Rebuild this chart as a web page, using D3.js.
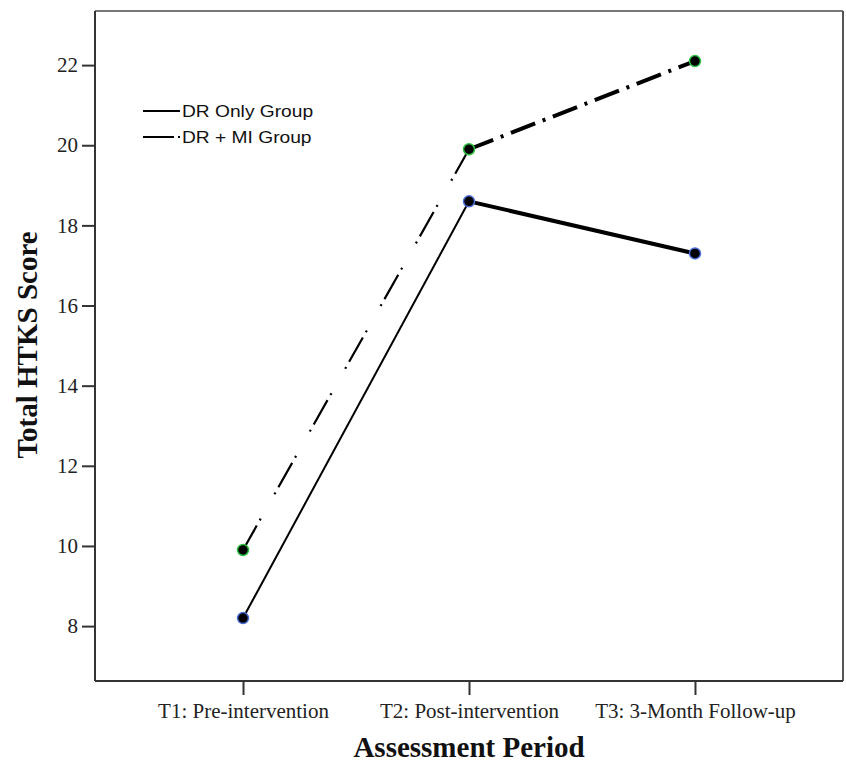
<!DOCTYPE html>
<html>
<head>
<meta charset="utf-8">
<script src="https://cdn.jsdelivr.net/npm/d3@7"></script>
<style>
  body { margin: 0; background: #fff; }
  .axis text { font-family: "Liberation Serif", "DejaVu Serif", serif; font-size: 21px; fill: #222; }
  .axis line, .axis path { stroke: #333; stroke-width: 2; }
</style>
</head>
<body>
<div id="chart"></div>
<script>
// assessment periods and group means
var periods = ["T1: Pre-intervention", "T2: Post-intervention", "T3: 3-Month Follow-up"];
var drOnly = [8.2, 18.6, 17.3];
var drMi = [9.9, 19.9, 22.1];
var yTicks = [8, 10, 12, 14, 16, 18, 20, 22];
var groups = ["DR Only Group", "DR + MI Group"];

var svgWidth = 846, svgHeight = 764;
var margin = {top: 11, right: 3, bottom: 83, left: 95};

var svg = d3.select('#chart').append('svg')
  .attr('width', svgWidth)
  .attr('height', svgHeight);

var width = svgWidth - margin.left - margin.right;
var height = svgHeight - margin.top - margin.bottom;

var g = svg.append('g')
  .attr('transform', 'translate(' + margin.left + ',' + margin.top + ')');

var x = d3.scalePoint()
  .domain(periods)
  .range([0, width])
  .padding(0.655);

var y = d3.scaleLinear()
  .domain([6.63, 23.35])
  .range([height, 0]);

// frame (top + right are lighter)
g.append('line')
  .attr('x1', 0).attr('x2', width).attr('y1', 0).attr('y2', 0)
  .attr('stroke', '#777').attr('stroke-width', 2);
g.append('line')
  .attr('x1', width).attr('x2', width).attr('y1', 0).attr('y2', height)
  .attr('stroke', '#555').attr('stroke-width', 2);

// axes
g.append('g')
  .attr('class', 'axis')
  .attr('transform', 'translate(0,' + height + ')')
  .call(d3.axisBottom(x).tickSize(14).tickPadding(8).tickSizeOuter(0))
  .select('.domain').attr('d', 'M0,0H' + width);

g.append('g')
  .attr('class', 'axis')
  .call(d3.axisLeft(y).tickValues(yTicks).tickFormat(d3.format('d')).tickSize(13).tickPadding(4).tickSizeOuter(0))
  .select('.domain').attr('d', 'M0,0V' + height);

// axis titles
svg.append('text')
  .attr('x', margin.left + x(periods[1]))
  .attr('y', 757)
  .attr('text-anchor', 'middle')
  .attr('font-family', '"Liberation Serif", serif')
  .attr('font-weight', 'bold')
  .attr('font-size', 29)
  .attr('fill', '#111')
  .text('Assessment Period');

svg.append('text')
  .attr('transform', 'translate(37,345) rotate(-90)')
  .attr('text-anchor', 'middle')
  .attr('font-family', '"Liberation Serif", serif')
  .attr('font-weight', 'bold')
  .attr('font-size', 29)
  .attr('fill', '#111')
  .text('Total HTKS Score');

// lines: each segment drawn separately (thin first segment, thick second)
var dashPattern = '28,6,2,28,2,6';
function seg(vals, i) {
  return [[x(periods[i]), y(vals[i])], [x(periods[i + 1]), y(vals[i + 1])]];
}
var line = d3.line();

[0, 1].forEach(function(i) {
  g.append('path')
    .attr('d', line(seg(drOnly, i)))
    .attr('fill', 'none')
    .attr('stroke', '#000')
    .attr('stroke-width', i === 0 ? 2 : 4);
  g.append('path')
    .attr('d', line(seg(drMi, i)))
    .attr('fill', 'none')
    .attr('stroke', '#000')
    .attr('stroke-width', i === 0 ? 2.2 : 4)
    .attr('stroke-dasharray', i === 0 ? dashPattern : '26,8,3,8');
});

// points
g.selectAll('.pt-dr')
  .data(drOnly)
  .enter().append('circle')
  .attr('cx', function(d, i) { return x(periods[i]); })
  .attr('cy', function(d) { return y(d); })
  .attr('r', 5.5)
  .attr('fill', '#000')
  .attr('stroke', '#4a6fd8')
  .attr('stroke-width', 1.5);

g.selectAll('.pt-mi')
  .data(drMi)
  .enter().append('circle')
  .attr('cx', function(d, i) { return x(periods[i]); })
  .attr('cy', function(d) { return y(d); })
  .attr('r', 5.5)
  .attr('fill', '#000')
  .attr('stroke', '#2fc043')
  .attr('stroke-width', 1.5);

// legend (text is a bit stretched sideways in the original)
var legend = svg.append('g').attr('transform', 'translate(143,111)');
groups.forEach(function(name, i) {
  var row = legend.append('g').attr('transform', 'translate(0,' + (i * 26) + ')');
  row.append('line')
    .attr('x1', 0).attr('x2', 37).attr('y1', 0).attr('y2', 0)
    .attr('stroke', '#000').attr('stroke-width', 2)
    .attr('stroke-dasharray', i === 0 ? null : '31,4,2,20');
  row.append('text')
    .attr('transform', 'translate(39,0) scale(1.2,1)')
    .attr('dy', '0.35em')
    .attr('font-family', '"Liberation Sans", Arial, sans-serif')
    .attr('font-size', 16)
    .attr('fill', '#111')
    .text(name);
});
</script>
</body>
</html>
